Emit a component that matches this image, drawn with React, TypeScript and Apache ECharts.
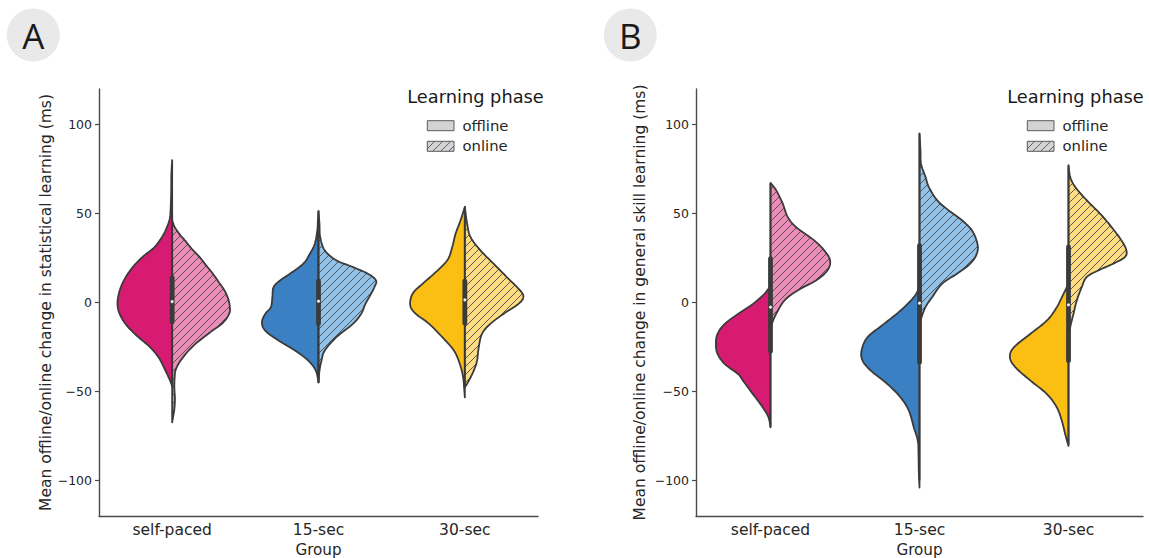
import React, { useEffect, useRef } from 'react';
import * as echarts from 'echarts';

// ---------- data ----------
const categories = ['self-paced', '15-sec', '30-sec'];
const phases = ['offline', 'online'];
const yTickValues = [-100, -50, 0, 50, 100];

// Panel A: statistical learning. Kernel-density profiles: [value (ms), density]
const statSelfPacedOffline = [[80,0],[72,0.8],[62,1.0],[52,1.6],[47,2.5],[42,5.5],[37,10],[31,18],[26,29],[21,38],[15,46],[9,51.5],[3,54.5],[-2,55],[-7,52.5],[-13,45.7],[-19,35],[-25,22.5],[-31,13.5],[-38,7],[-44,2],[-47,0]];
const statSelfPacedOnline = [[46,0],[42,3],[38,8],[35,12.7],[30,20],[25.5,27.7],[21,34],[16.2,41],[11,47.5],[6.8,52.7],[2,56.5],[-2,58],[-6,57.7],[-11.5,51],[-17,37.7],[-24.5,21],[-32,9.3],[-37.6,3.7],[-42,2.5],[-48,2.2],[-54,2.8],[-60,2.2],[-64,1],[-67.4,0]];
const stat15Offline = [[51.4,0],[46,0.6],[40.6,1.2],[33,3.7],[27.4,8.7],[21.8,15.3],[16.2,28.7],[12.4,38.7],[8.6,45.3],[3,46.5],[-2.6,48],[-6.4,53.7],[-11.1,57],[-15.8,53.7],[-21.4,40.3],[-27,23.7],[-32.7,10.3],[-38.3,2.7],[-44.9,0]];
const stat15Online = [[51.4,0],[44,1],[36.8,1.7],[29.3,6.3],[23.7,18],[19.9,34.7],[16.2,49.7],[12.4,58],[8.6,56.3],[4.9,53],[-0.8,47.3],[-6.4,43],[-12,34.7],[-19.5,18],[-27,6.3],[-32.7,3],[-38.3,1],[-44.9,0]];
const stat30Offline = [[53.7,0],[46.2,4.3],[38.7,9.3],[31.2,12.7],[23.7,17.7],[16.2,31],[10.5,42.7],[4.9,52.7],[-1.7,55],[-6.4,49.3],[-12,36],[-19.5,22.7],[-27,11],[-34.6,5],[-42.1,1.7],[-49.6,0.5],[-53.3,0]];
const stat30Online = [[53.7,0],[44.3,2.3],[36.8,5.7],[29.3,15.7],[21.8,29],[14.3,42.3],[6.8,55.7],[3,59],[-0.8,54],[-6.4,39],[-12,25.7],[-17.6,17.3],[-25.2,14],[-32.7,12.3],[-38.3,9],[-44,4],[-47.7,0]];

// Panel B: general skill learning
const genSelfPacedOffline = [[9.6,0],[4.9,6],[-0.8,17.7],[-6.4,32.7],[-12,46],[-17.6,53.3],[-23.3,55],[-28.9,53.3],[-34.6,46],[-40.2,32.7],[-43.9,27.7],[-51.5,17.7],[-59,7.7],[-64.6,2],[-70.2,0]];
const genSelfPacedOnline = [[67.2,0],[63.1,5.7],[55.6,12.3],[48.1,17.3],[42.4,25.7],[34.9,44],[29.3,54],[23.7,60],[18,57.3],[12.4,45.7],[6.8,27.3],[1.1,14],[-6.4,5.7],[-12,1.3],[-14,0]];
const gen15Offline = [[8.6,0],[3,5.7],[-4.5,19],[-12,35.7],[-19.5,52.3],[-27,58.3],[-32.7,57.3],[-38.3,49],[-45.8,32.3],[-53.4,19],[-60.8,10.7],[-70.2,5.7],[-77.7,1.7],[-85,1],[-95,0.7],[-104,0]];
const gen15Online = [[95,0],[85,1],[78,1.5],[70.6,6],[65,9.3],[57.5,17.7],[51.8,29.3],[46.2,42.7],[40.6,52.7],[33.1,58.3],[27.4,57.7],[21.8,51],[16.2,37.7],[10.5,22.7],[3,12.7],[-2.6,6],[-8.3,2],[-12,0]];
const gen30Offline = [[10.5,0],[4.9,5],[-2.6,11.7],[-10.1,21.7],[-17.6,38.3],[-25.2,55],[-30.8,59],[-36.5,53.3],[-43.9,38.3],[-51.5,21.7],[-59,11.7],[-66.5,6.7],[-74,3.3],[-80.6,0]];
const gen30Online = [[77.2,0],[70.6,1.7],[65,6.7],[57.5,18.3],[50,31.7],[42.4,43.3],[34.9,53.3],[29.3,58.3],[25.5,56.7],[21.8,45],[18,30],[14.3,18.3],[8.6,13.3],[1.1,8.3],[-6.4,5],[-13.9,1.7],[-19.5,0]];

// Box statistics per group: [q1, q3, whiskerLow, whiskerHigh, median]
const statBoxes = [[-11, 14, -47, 50, 0.5], [-12, 12, -45, 46, 0.7], [-11.6, 12, -48, 46, 1.5]];
const genBoxes = [[-27.4, 24.6, -70, 67, -2.6], [-33.6, 32, -100, 95, -0.4], [-32.7, 31.2, -80, 77, -1.3]];

const statProfiles = [[statSelfPacedOffline, statSelfPacedOnline], [stat15Offline, stat15Online], [stat30Offline, stat30Online]];
const genProfiles = [[genSelfPacedOffline, genSelfPacedOnline], [gen15Offline, gen15Online], [gen30Offline, gen30Online]];

// ---------- styles ----------
const offlineColors = ['#d81b72', '#3b80c2', '#fbbe12'];
const onlineColors = ['#ec8cb8', '#93c2e8', '#fedd82'];
const edgeColor = '#3a3a3a';
const axisColor = '#4a4a4a';
const textColor = '#262626';
const FONT = 'DejaVu Sans';
const HATCH = 8;

function catmull(points: number[][], seg: number) {
  const out: number[][] = [];
  const n = points.length;
  for (let i = 0; i < n - 1; i++) {
    const p0 = points[Math.max(i - 1, 0)], p1 = points[i], p2 = points[i + 1], p3 = points[Math.min(i + 2, n - 1)];
    for (let t = 0; t < seg; t++) {
      const s = t / seg, s2 = s * s, s3 = s2 * s;
      const f = (k: number) => 0.5 * (2 * p1[k] + (-p0[k] + p2[k]) * s + (2 * p0[k] - 5 * p1[k] + 4 * p2[k] - p3[k]) * s2 + (-p0[k] + 3 * p1[k] - 3 * p2[k] + p3[k]) * s3);
      out.push([f(0), f(1)]);
    }
  }
  out.push(points[n - 1]);
  return out;
}

function hatchLines(poly: number[][], stroke: string, lw: number) {
  let minC = Infinity, maxC = -Infinity;
  poly.forEach(([x, y]) => { minC = Math.min(minC, x + y); maxC = Math.max(maxC, x + y); });
  const lines: any[] = [];
  for (let c = Math.ceil(minC / HATCH) * HATCH; c <= maxC; c += HATCH) {
    const hits: number[][] = [];
    for (let i = 0; i < poly.length; i++) {
      const p = poly[i], q = poly[(i + 1) % poly.length];
      const fp = p[0] + p[1] - c, fq = q[0] + q[1] - c;
      if ((fp < 0 && fq >= 0) || (fp >= 0 && fq < 0)) {
        const t = fp / (fp - fq);
        hits.push([p[0] + (q[0] - p[0]) * t, p[1] + (q[1] - p[1]) * t]);
      }
    }
    hits.sort((a, b) => a[0] - b[0]);
    for (let k = 0; k + 1 < hits.length; k += 2) {
      lines.push({ type: 'line', silent: true, shape: { x1: hits[k][0], y1: hits[k][1], x2: hits[k + 1][0], y2: hits[k + 1][1] }, style: { stroke, lineWidth: lw } });
    }
  }
  return lines;
}

function makeViolinSeries(gridIdx: number, profiles: number[][][][]) {
  let maxD = 0;
  profiles.forEach((pair) => pair.forEach((p) => p.forEach(([, d]) => { maxD = Math.max(maxD, d); })));
  const data: number[][] = [];
  profiles.forEach((pair, c) => pair.forEach((_, h) => data.push([c, 0, h])));
  return {
    type: 'custom',
    xAxisIndex: gridIdx,
    yAxisIndex: gridIdx,
    data,
    encode: { x: 0, y: 1 },
    renderItem: (params: any, api: any) => {
      const cat = api.value(0), h = api.value(2);
      const prof = profiles[cat][h];
      const cx = api.coord([cat, 0])[0];
      const band = api.size([1, 0])[0];
      const dir = h === 0 ? -1 : 1;
      const pts = prof.map(([v, d]) => [cx + dir * (d / maxD) * 0.4 * band, api.coord([cat, v])[1]]);
      const sm = catmull(pts, 8).map(([x, y]) => [dir < 0 ? Math.min(x, cx) : Math.max(x, cx), y]);
      const poly = [[cx, pts[0][1]], ...sm, [cx, pts[pts.length - 1][1]]];
      const fill = h === 0 ? offlineColors[cat] : onlineColors[cat];
      const children: any[] = [{ type: 'polygon', shape: { points: poly }, style: { fill, stroke: 'none' } }];
      if (h === 1) children.push(...hatchLines(poly, '#4a4a4a', 0.9));
      children.push({ type: 'polygon', shape: { points: poly }, style: { fill: 'none', stroke: edgeColor, lineWidth: 1.8, lineJoin: 'round' } });
      return { type: 'group', children };
    },
    z: 2,
  };
}

function makeBoxSeries(gridIdx: number, boxes: number[][]) {
  return {
    type: 'custom',
    xAxisIndex: gridIdx,
    yAxisIndex: gridIdx,
    data: boxes.map((b, i) => [i, ...b]),
    encode: { x: 0, y: [1, 2] },
    renderItem: (params: any, api: any) => {
      const c = api.value(0);
      const [x, yq1] = api.coord([c, api.value(1)]);
      const yq3 = api.coord([c, api.value(2)])[1];
      const ylo = api.coord([c, api.value(3)])[1];
      const yhi = api.coord([c, api.value(4)])[1];
      const ymed = api.coord([c, api.value(5)])[1];
      return {
        type: 'group',
        children: [
          { type: 'line', shape: { x1: x, y1: ylo, x2: x, y2: yhi }, style: { stroke: edgeColor, lineWidth: 1.8 } },
          { type: 'line', shape: { x1: x, y1: yq1, x2: x, y2: yq3 }, style: { stroke: edgeColor, lineWidth: 4.8, lineCap: 'round' } },
          { type: 'circle', shape: { cx: x, cy: ymed, r: 1.6 }, style: { fill: '#ffffff', stroke: edgeColor, lineWidth: 0.3 } },
        ],
      };
    },
    z: 3,
  };
}

function legendGraphics(dx: number) {
  const els: any[] = [];
  els.push({ type: 'text', x: 475.5 + dx, y: 96, style: { text: 'Learning phase', fontSize: 17.8, fontFamily: FONT, fill: '#1a1a1a', align: 'center', verticalAlign: 'middle' } });
  phases.forEach((p, i) => {
    const rx = 427.3 + dx, ry = 120.7 + i * 20.6, rw = 26.7, rh = 10;
    els.push({ type: 'rect', shape: { x: rx, y: ry, width: rw, height: rh }, style: { fill: '#d3d3d3', stroke: 'none' } });
    if (i === 1) {
      hatchLines([[rx, ry], [rx + rw, ry], [rx + rw, ry + rh], [rx, ry + rh]], '#555555', 0.9).forEach((l) => els.push(l));
    }
    els.push({ type: 'rect', shape: { x: rx, y: ry, width: rw, height: rh }, style: { fill: 'none', stroke: '#5a5a5a', lineWidth: 1 } });
    els.push({ type: 'text', x: 462.5 + dx, y: ry + rh / 2 - 0.5, style: { text: p, fontSize: 14.8, fontFamily: FONT, fill: textColor, align: 'left', verticalAlign: 'middle' } });
  });
  return els;
}

function panelLetter(cx: number, letter: string) {
  return [
    { type: 'circle', shape: { cx, cy: 35, r: 26.5 }, style: { fill: '#e8e9e8' } },
    { type: 'text', x: cx, y: 35, style: { text: letter, fontSize: 35, fontFamily: 'Open Sans', fill: '#1a1a1a', align: 'center', verticalAlign: 'middle' } },
  ];
}

const fmt = (v: number) => (v < 0 ? '\u2212' + Math.abs(v) : String(v));

function xAxisCfg(gridIndex: number) {
  return {
    type: 'category', gridIndex, data: categories,
    name: 'Group', nameLocation: 'middle', nameGap: 20,
    nameTextStyle: { fontSize: 15.2, color: textColor, fontFamily: FONT },
    axisLine: { onZero: false, lineStyle: { color: axisColor, width: 1.4 } },
    axisTick: { alignWithLabel: true, length: 4, lineStyle: { color: axisColor, width: 1.2 } },
    axisLabel: { fontSize: 15.5, color: textColor, fontFamily: FONT, margin: 6 },
    splitLine: { show: false },
  };
}

function yAxisCfg(gridIndex: number, name: string, gap: number) {
  return {
    type: 'value', gridIndex, min: -120, max: 120,
    name, nameLocation: 'middle', nameGap: gap,
    nameTextStyle: { fontSize: 15.5, color: textColor, fontFamily: FONT },
    axisLine: { show: true, lineStyle: { color: axisColor, width: 1.4 } },
    axisTick: { show: true, length: 4, customValues: yTickValues, lineStyle: { color: axisColor, width: 1.2 } },
    axisLabel: { customValues: yTickValues, formatter: fmt, fontSize: 12.5, color: textColor, fontFamily: FONT, margin: 7 },
    splitLine: { show: false },
  };
}

export default function App() {
  const ref = useRef<HTMLDivElement>(null);
  useEffect(() => {
    if (!ref.current) return;
    const chart = echarts.init(ref.current, undefined, { renderer: 'svg' });
    chart.setOption({
      animation: false,
      backgroundColor: '#ffffff',
      grid: [
        { left: 99, top: 89, width: 439, height: 427, outerBoundsMode: 'none', containLabel: false },
        { left: 696, top: 89, width: 447, height: 427, outerBoundsMode: 'none', containLabel: false },
      ],
      xAxis: [xAxisCfg(0), xAxisCfg(1)],
      yAxis: [
        yAxisCfg(0, 'Mean offline/online change in statistical learning (ms)', 45),
        yAxisCfg(1, 'Mean offline/online change in general skill learning (ms)', 48),
      ],
      series: [
        makeViolinSeries(0, statProfiles),
        makeBoxSeries(0, statBoxes),
        makeViolinSeries(1, genProfiles),
        makeBoxSeries(1, genBoxes),
      ],
      graphic: [
        ...panelLetter(33.3, 'A'),
        ...panelLetter(630.3, 'B'),
        ...legendGraphics(0),
        ...legendGraphics(600),
      ],
    });
    return () => chart.dispose();
  }, []);
  return <div ref={ref} style={{ position: 'absolute', left: 0, top: 0, width: 1149, height: 558 }} />;
}
